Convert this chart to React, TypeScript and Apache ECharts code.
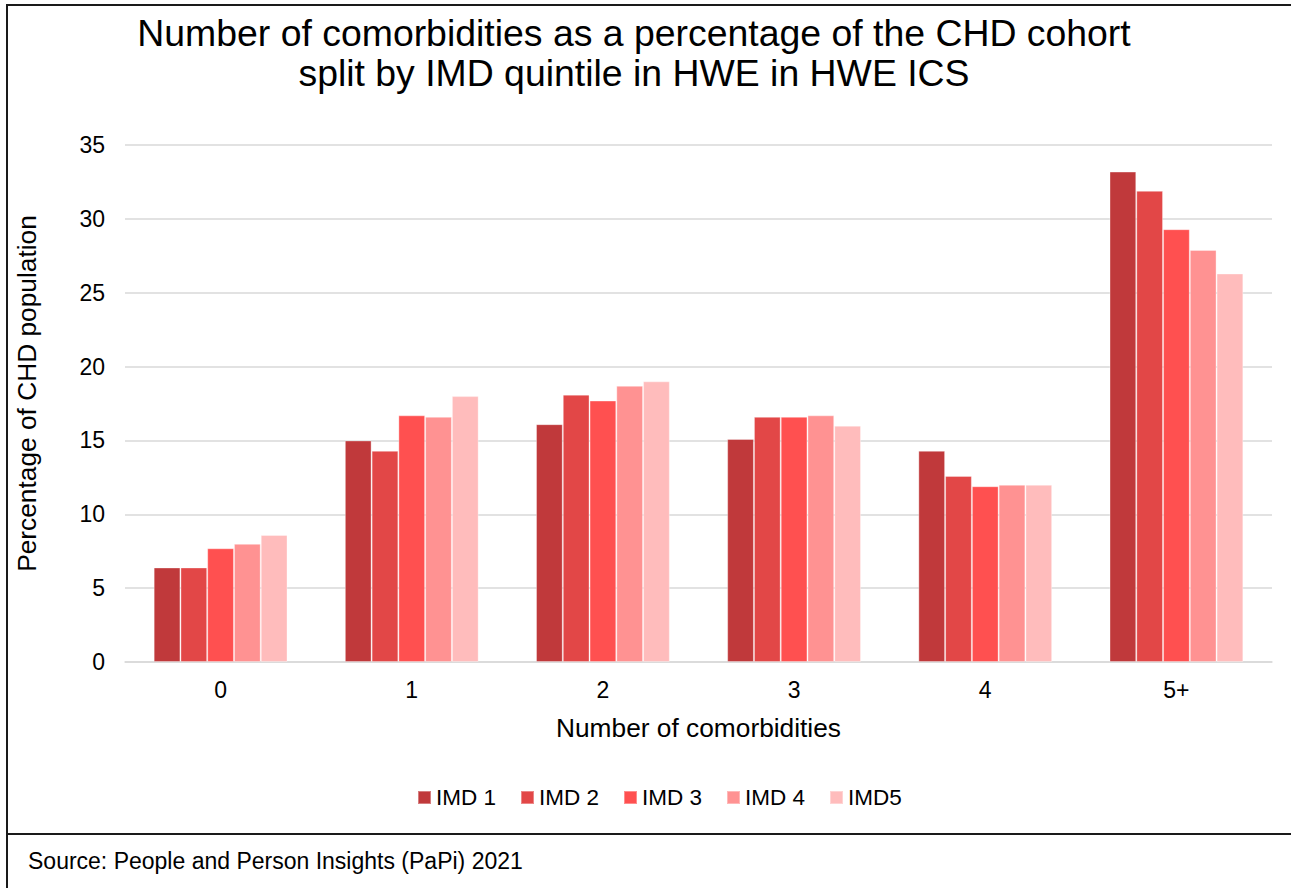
import React, { useEffect, useRef } from "react";
import * as echarts from "echarts";

const categories = ["0", "1", "2", "3", "4", "5+"];
const seriesNames = ["IMD 1", "IMD 2", "IMD 3", "IMD 4", "IMD5"];
const imd1 = [6.4, 15.0, 16.1, 15.1, 14.3, 33.2];
const imd2 = [6.4, 14.3, 18.1, 16.6, 12.6, 31.9];
const imd3 = [7.7, 16.7, 17.7, 16.6, 11.9, 29.3];
const imd4 = [8.0, 16.6, 18.7, 16.7, 12.0, 27.9];
const imd5 = [8.6, 18.0, 19.0, 16.0, 12.0, 26.3];
const seriesValues = [imd1, imd2, imd3, imd4, imd5];
const colors = ["#C0393B", "#E24747", "#FF5050", "#FF9292", "#FFBCBC"];

const titleText =
  "Number of comorbidities as a percentage of the CHD cohort\nsplit by IMD quintile in HWE in HWE ICS";
const xAxisName = "Number of comorbidities";
const yAxisName = "Percentage of CHD population";
const sourceText = "Source: People and Person Insights (PaPi) 2021";

const FONT = "'Liberation Sans', Arial, sans-serif";

export default function App() {
  const ref = useRef<HTMLDivElement>(null);

  useEffect(() => {
    if (!ref.current) return;
    const chart = echarts.init(ref.current, null, { renderer: "svg" });
    chart.setOption({
      animation: false,
      backgroundColor: "#ffffff",
      textStyle: { fontFamily: FONT, color: "#000" },
      title: {
        text: titleText,
        left: 634,
        top: 13,
        padding: 0,
        textAlign: "center",
        textStyle: {
          fontFamily: FONT,
          fontSize: 37.4,
          fontWeight: "normal",
          color: "#000",
          lineHeight: 40,
        },
      },
      legend: {
        data: seriesNames,
        left: 417,
        top: 786,
        padding: 0,
        icon: "rect",
        itemWidth: 13,
        itemHeight: 13,
        itemGap: 24,
        textStyle: { fontFamily: FONT, fontSize: 22.5, color: "#000", padding: [0, 0, 0, 0] },
      },
      grid: { left: 125, right: 19, top: 145, bottom: 226, containLabel: false },
      xAxis: {
        type: "category",
        data: categories,
        name: xAxisName,
        nameLocation: "middle",
        nameGap: 53,
        nameTextStyle: { fontFamily: FONT, fontSize: 26.3, color: "#000" },
        axisLine: { show: true, lineStyle: { color: "#d9d9d9", width: 1.5 } },
        axisTick: { show: false },
        axisLabel: { fontFamily: FONT, fontSize: 23, color: "#000", margin: 16 },
      },
      yAxis: {
        type: "value",
        min: 0,
        max: 35,
        interval: 5,
        name: yAxisName,
        nameLocation: "middle",
        nameGap: 85,
        nameTextStyle: { fontFamily: FONT, fontSize: 26.3, color: "#000", padding: [0, 0, 0, 20] },
        axisLine: { show: false },
        axisTick: { show: false },
        axisLabel: { fontFamily: FONT, fontSize: 23, color: "#000", margin: 20 },
        splitLine: { show: true, lineStyle: { color: "#d9d9d9", width: 1.5 } },
      },
      series: seriesValues.map((vals, i) => ({
        name: seriesNames[i],
        type: "bar",
        data: vals,
        barGap: "0%",
        barCategoryGap: "30%",
        itemStyle: {
          color: colors[i],
          borderColor: "rgba(255,255,255,0.35)",
          borderWidth: 1,
        },
      })),
      graphic: [
        {
          type: "line",
          shape: { x1: 7, y1: 5, x2: 1291, y2: 5 },
          style: { stroke: "#1a1a1a", lineWidth: 2 },
        },
        {
          type: "line",
          shape: { x1: 7, y1: 4, x2: 7, y2: 888 },
          style: { stroke: "#1a1a1a", lineWidth: 2 },
        },
        {
          type: "line",
          shape: { x1: 7, y1: 834, x2: 1291, y2: 834 },
          style: { stroke: "#1a1a1a", lineWidth: 2 },
        },
        {
          type: "text",
          left: 28,
          top: 849,
          style: {
            text: sourceText,
            font: `23px ${FONT}`,
            fill: "#000",
          },
        },
      ],
    });
    return () => chart.dispose();
  }, []);

  return (
    <div
      ref={ref}
      style={{ position: "absolute", left: 0, top: 0, width: 1291, height: 888 }}
    />
  );
}
